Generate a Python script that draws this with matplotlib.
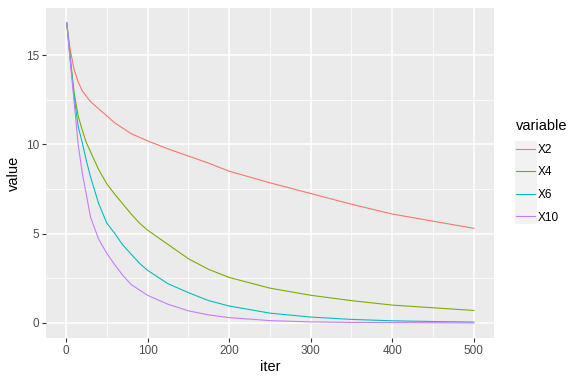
import matplotlib
matplotlib.use("Agg")
import matplotlib.pyplot as plt
from matplotlib.lines import Line2D
from matplotlib.patches import Rectangle

plt.rcParams['font.family'] = ['Liberation Sans', 'DejaVu Sans']

iters = [1, 5, 10, 15, 20, 25, 30, 40, 50, 60, 70, 80, 90, 100,
         125, 150, 175, 200, 250, 300, 350, 400, 450, 500]

x2 = [16.8, 15.35, 14.2, 13.5, 13.0, 12.7, 12.4, 12.0, 11.6, 11.2, 10.9, 10.6, 10.4, 10.2,
      9.75, 9.35, 8.95, 8.5, 7.85, 7.25, 6.65, 6.1, 5.7, 5.3]
x4 = [16.8, 15.0, 12.9, 11.6, 10.8, 10.1, 9.6, 8.6, 7.8, 7.2, 6.65, 6.1, 5.6, 5.2,
      4.4, 3.6, 3.0, 2.55, 1.95, 1.55, 1.25, 1.0, 0.85, 0.7]
x6 = [16.8, 14.9, 12.7, 11.0, 10.1, 9.1, 8.2, 6.7, 5.6, 5.0, 4.35, 3.85, 3.35, 2.95,
      2.2, 1.7, 1.25, 0.95, 0.55, 0.33, 0.2, 0.12, 0.08, 0.05]
x10 = [16.8, 14.8, 12.4, 10.0, 8.4, 7.2, 5.95, 4.7, 3.9, 3.25, 2.65, 2.15, 1.85, 1.55,
       1.05, 0.68, 0.45, 0.3, 0.13, 0.06, 0.03, 0.02, 0.01, 0.0]

names = ['X2', 'X4', 'X6', 'X10']
colors = ['#F8766D', '#7CAE00', '#00BFC4', '#C77CFF']

fig = plt.figure(figsize=(5.8, 3.81), dpi=100)
ax = fig.add_axes([0.080, 0.113, 0.772, 0.866])
ax.set_facecolor('#EBEBEB')

for ys, c, n in zip([x2, x4, x6, x10], colors, names):
    ax.plot(iters, ys, color=c, lw=0.8, label=n, zorder=3)

ax.set_xlim(-23.95, 524.95)
ax.set_ylim(-0.84, 17.64)
ax.set_xticks([0, 100, 200, 300, 400, 500])
ax.set_yticks([0, 5, 10, 15])
ax.set_xticks([50, 150, 250, 350, 450], minor=True)
ax.set_yticks([2.5, 7.5, 12.5], minor=True)
ax.grid(which='major', color='white', lw=1.1)
ax.grid(which='minor', color='white', lw=0.55)
ax.set_axisbelow(True)
for s in ax.spines.values():
    s.set_visible(False)
ax.tick_params(which='major', length=3, width=0.8, color='#333333',
               labelsize=8.5, labelcolor='#4D4D4D', pad=2)
ax.tick_params(which='minor', length=0)
ax.set_xlabel('iter', fontsize=10.5, labelpad=2)
ax.set_ylabel('value', fontsize=10.5, labelpad=4)

# grey legend key column
fig.patches.append(Rectangle((515 / 580, 1 - 224 / 381), 22 / 580, 83 / 381,
                             transform=fig.transFigure, facecolor='#F2F2F2',
                             edgecolor='none', zorder=0))

handles = [Line2D([], [], color=c, lw=0.8) for c in colors]
leg = fig.legend(handles, names, title='variable', loc='upper left',
                 bbox_to_anchor=(0.881, 0.70), frameon=False,
                 fontsize=8.5, title_fontsize=10.5, handlelength=1.6,
                 handletextpad=0.3, labelspacing=0.9, borderaxespad=0)
leg._legend_box.align = 'left'
leg.set_zorder(2)

fig.savefig('out.png', dpi=100)
